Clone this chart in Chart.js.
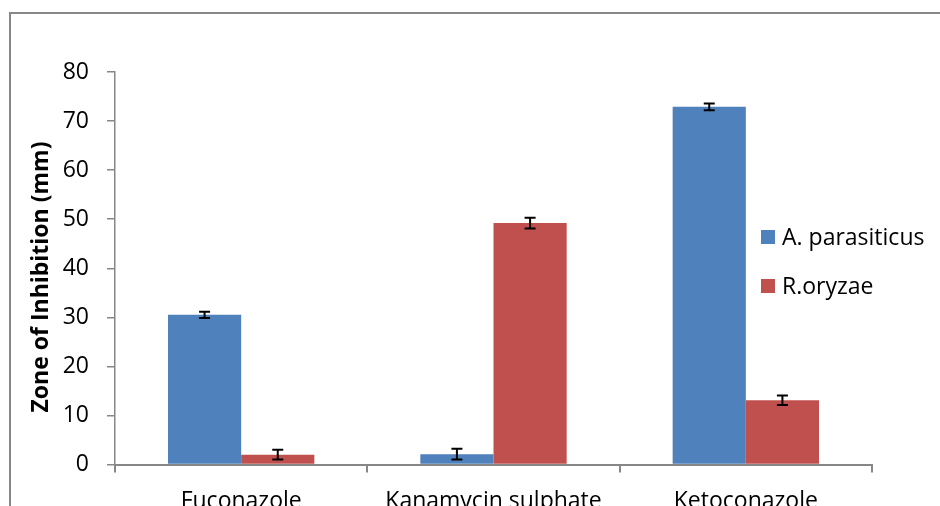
<!DOCTYPE html>
<html>
<head>
<meta charset="utf-8">
<script src="https://cdn.jsdelivr.net/npm/chart.js@4.4.1/dist/chart.umd.min.js"></script>
<style>
  html, body { margin: 0; padding: 0; overflow: hidden; background: #fff; width: 940px; height: 506px; }
  #wrap { position: absolute; left: 0; top: 0; width: 940px; height: 540px; }
  #frame { position: absolute; left: 9px; top: 12px; width: 1000px; height: 600px;
           border-left: 2px solid #878787; border-top: 2px solid #878787; pointer-events: none; }
</style>
</head>
<body>
<div id="wrap"><canvas id="chart" width="940" height="540"></canvas></div>
<div id="frame"></div>
<script>
// Zone of inhibition per antifungal agent, mean and error (mm)
const categories = ['Fuconazole', 'Kanamycin sulphate', 'Ketoconazole'];
const seriesNames = ['A. parasiticus', 'R.oryzae'];
const parasiticus = [30.5, 2.1, 72.9];
const parasiticusErr = [0.65, 1.1, 0.7];
const oryzae = [2.0, 49.2, 13.1];
const oryzaeErr = [1.0, 1.1, 0.95];
const yTickValues = [0, 10, 20, 30, 40, 50, 60, 70, 80];
const yTitle = 'Zone of Inhibition (mm)';

const BLUE = '#4F81BD';
const RED = '#C0504D';
const AXIS = '#878787';
const FONT = "'Open Sans', 'Liberation Sans', sans-serif";

Chart.defaults.font.family = FONT;
Chart.defaults.font.size = 23;
Chart.defaults.color = '#000';

// Vertical error bars with caps, centred on each bar
const errorBars = {
  id: 'errorBars',
  afterDatasetsDraw(chart) {
    const ctx = chart.ctx;
    const y = chart.scales.y;
    ctx.save();
    ctx.strokeStyle = '#000';
    ctx.lineWidth = 2;
    chart.data.datasets.forEach((ds, i) => {
      const meta = chart.getDatasetMeta(i);
      meta.data.forEach((bar, j) => {
        const v = ds.data[j], e = ds.errors[j];
        const top = y.getPixelForValue(v + e);
        const bot = y.getPixelForValue(v - e);
        const x = bar.x, half = 5.5;
        ctx.beginPath();
        ctx.moveTo(x, top); ctx.lineTo(x, bot);
        ctx.moveTo(x - half, top); ctx.lineTo(x + half, top);
        ctx.moveTo(x - half, bot); ctx.lineTo(x + half, bot);
        ctx.stroke();
      });
    });
    ctx.restore();
  }
};

// Legend laid over the right part of the plot, plus the rotated axis title
const overlay = {
  id: 'overlay',
  afterDraw(chart) {
    const ctx = chart.ctx;
    ctx.save();
    ctx.font = '23px ' + FONT;
    ctx.textBaseline = 'middle';
    ctx.textAlign = 'left';
    const rows = [237, 286];
    chart.data.datasets.forEach((ds, i) => {
      const cy = rows[i];
      ctx.fillStyle = ds.backgroundColor;
      ctx.fillRect(761, cy - 7, 14, 14);
      ctx.fillStyle = '#000';
      ctx.fillText(ds.label, 782, cy + 1);
    });
    ctx.translate(41, 277);
    ctx.rotate(-Math.PI / 2);
    ctx.font = 'bold 23px ' + FONT;
    ctx.textAlign = 'center';
    ctx.fillText(yTitle, 0, 0);
    ctx.restore();
  }
};

new Chart(document.getElementById('chart'), {
  type: 'bar',
  data: {
    labels: categories,
    datasets: [
      { label: seriesNames[0], data: parasiticus, errors: parasiticusErr, backgroundColor: BLUE,
        categoryPercentage: 0.58, barPercentage: 1.0 },
      { label: seriesNames[1], data: oryzae, errors: oryzaeErr, backgroundColor: RED,
        categoryPercentage: 0.58, barPercentage: 1.0 }
    ]
  },
  options: {
    responsive: false,
    animation: false,
    layout: { padding: { left: 0, top: 72, right: 68, bottom: 0 } },
    plugins: { legend: { display: false }, tooltip: { enabled: false } },
    scales: {
      x: {
        grid: { display: true, drawOnChartArea: false, drawTicks: true, tickLength: 8,
                color: AXIS, lineWidth: 2, offset: true },
        border: { display: true, color: AXIS, width: 2 },
        ticks: { padding: 15, maxRotation: 0, autoSkip: false },
        afterFit(s) { s.height = 75.5; }
      },
      y: {
        min: 0, max: 80,
        afterBuildTicks(s) { s.ticks = yTickValues.map(v => ({ value: v })); },
        grid: { display: true, drawOnChartArea: false, drawTicks: true, tickLength: 8,
                color: AXIS, lineWidth: 1.5 },
        border: { display: true, color: AXIS, width: 1.5 },
        ticks: { padding: 18 },
        afterFit(s) { s.width = 115; }
      }
    }
  },
  plugins: [errorBars, overlay]
});
</script>
</body>
</html>
